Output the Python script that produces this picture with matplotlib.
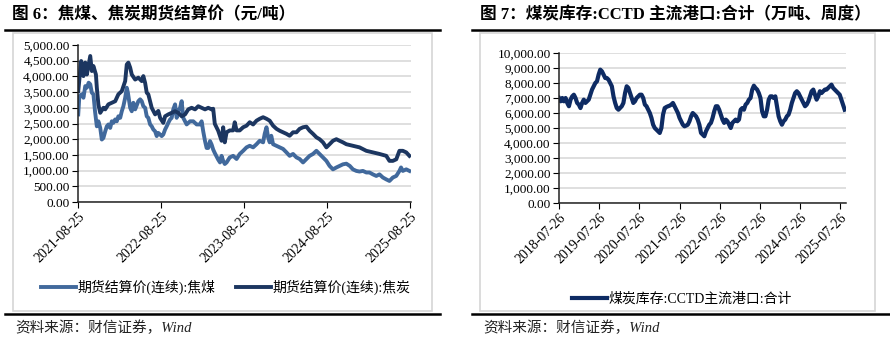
import matplotlib
matplotlib.use("Agg")
import matplotlib.pyplot as plt
import matplotlib.ticker as mticker
import matplotlib.dates as mdates
from matplotlib.patches import Rectangle
from matplotlib.lines import Line2D
import pandas as pd

# --- data ---
coke_dates = [
    "2021-08-25", "2021-09-07", "2021-09-17", "2021-09-25", "2021-10-02", "2021-10-17",
    "2021-10-24", "2021-10-31", "2021-11-11", "2021-11-15", "2021-11-22", "2021-11-30",
    "2021-12-14", "2021-12-22", "2022-01-05", "2022-01-20", "2022-02-04", "2022-02-18",
    "2022-03-05", "2022-03-20", "2022-03-27", "2022-04-03", "2022-04-11", "2022-04-18",
    "2022-05-03", "2022-05-17", "2022-06-01", "2022-06-08", "2022-06-16", "2022-06-23",
    "2022-06-30", "2022-07-15", "2022-07-30", "2022-08-13", "2022-08-21", "2022-09-04",
    "2022-09-12", "2022-09-26", "2022-10-11", "2022-10-26", "2022-11-09", "2022-11-24",
    "2022-12-09", "2022-12-23", "2023-01-07", "2023-01-22", "2023-02-05", "2023-02-20",
    "2023-03-07", "2023-03-21", "2023-04-05", "2023-04-12", "2023-04-19", "2023-05-04",
    "2023-05-19", "2023-05-26", "2023-06-02", "2023-06-10", "2023-06-24", "2023-07-09",
    "2023-07-16", "2023-07-24", "2023-08-07", "2023-08-22", "2023-09-06", "2023-09-20",
    "2023-10-05", "2023-10-20", "2023-11-03", "2023-11-18", "2023-12-03", "2023-12-17",
    "2024-01-01", "2024-01-16", "2024-01-30", "2024-02-14", "2024-02-29", "2024-03-14",
    "2024-03-29", "2024-04-13", "2024-04-27", "2024-05-12", "2024-05-27", "2024-06-10",
    "2024-06-25", "2024-07-10", "2024-07-24", "2024-08-08", "2024-08-23", "2024-09-06",
    "2024-09-21", "2024-10-06", "2024-10-20", "2024-11-04", "2024-11-19", "2024-12-18",
    "2025-01-16", "2025-02-15", "2025-03-16", "2025-04-14", "2025-05-14", "2025-05-28",
    "2025-06-12", "2025-06-27", "2025-07-11", "2025-07-26", "2025-08-10", "2025-08-24",
]
coke_values = [
    3530, 4490, 4010, 4440, 4060, 4650, 4170, 4330, 4060, 3640, 3100, 2840,
    3000, 2950, 3110, 3160, 3210, 3430, 3530, 3850, 4380, 4440, 4280, 4060,
    3900, 3960, 3850, 4010, 3790, 3480, 3430, 3000, 2790, 2900, 2680, 2520,
    2730, 2790, 2840, 2890, 2840, 2730, 2790, 2950, 3000, 2950, 3050, 3000,
    2950, 3000, 2950, 2970, 2490, 2270, 1950, 2380, 1900, 2220, 2280, 2280,
    2540, 2280, 2280, 2380, 2430, 2540, 2470, 2590, 2650, 2700, 2650, 2590,
    2430, 2330, 2270, 2220, 2170, 2110, 2220, 2220, 2330, 2380, 2400, 2270,
    2170, 2060, 2000, 1900, 1740, 1840, 1950, 2000, 1950, 1900, 1840, 1790,
    1740, 1630, 1580, 1530, 1470, 1310, 1310, 1360, 1630, 1630, 1580, 1470,
]

coal_dates = [
    "2021-08-25", "2021-08-30", "2021-09-10", "2021-09-17", "2021-09-25", "2021-10-02",
    "2021-10-10", "2021-10-17", "2021-10-24", "2021-10-31", "2021-11-07", "2021-11-15",
    "2021-11-22", "2021-11-30", "2021-12-07", "2021-12-14", "2021-12-22", "2021-12-29",
    "2022-01-05", "2022-01-13", "2022-01-20", "2022-01-27", "2022-02-04", "2022-02-11",
    "2022-02-18", "2022-02-26", "2022-03-05", "2022-03-12", "2022-03-20", "2022-03-27",
    "2022-04-01", "2022-04-11", "2022-04-18", "2022-04-25", "2022-05-03", "2022-05-17",
    "2022-05-25", "2022-06-01", "2022-06-08", "2022-06-16", "2022-06-23", "2022-06-30",
    "2022-07-08", "2022-07-15", "2022-07-22", "2022-07-30", "2022-08-06", "2022-08-13",
    "2022-08-28", "2022-09-04", "2022-09-12", "2022-09-19", "2022-09-26", "2022-10-04",
    "2022-10-11", "2022-10-18", "2022-10-26", "2022-11-02", "2022-11-09", "2022-11-17",
    "2022-11-24", "2022-12-01", "2022-12-09", "2022-12-16", "2022-12-31", "2023-01-14",
    "2023-01-29", "2023-02-13", "2023-02-20", "2023-02-27", "2023-03-07", "2023-03-14",
    "2023-03-21", "2023-03-29", "2023-04-05", "2023-04-12", "2023-04-19", "2023-05-04",
    "2023-05-12", "2023-05-19", "2023-05-26", "2023-06-02", "2023-06-10", "2023-06-24",
    "2023-07-09", "2023-07-24", "2023-08-07", "2023-08-22", "2023-09-06", "2023-09-20",
    "2023-10-05", "2023-10-20", "2023-11-03", "2023-11-18", "2023-11-25", "2023-12-03",
    "2023-12-10", "2023-12-17", "2023-12-24", "2024-01-01", "2024-01-16", "2024-01-30",
    "2024-02-14", "2024-02-29", "2024-03-14", "2024-03-29", "2024-04-13", "2024-04-27",
    "2024-05-12", "2024-05-27", "2024-06-10", "2024-06-25", "2024-07-10", "2024-07-24",
    "2024-08-08", "2024-08-23", "2024-09-06", "2024-09-21", "2024-10-06", "2024-10-20",
    "2024-11-04", "2024-11-19", "2024-12-04", "2024-12-18", "2025-01-02", "2025-01-16",
    "2025-01-31", "2025-02-15", "2025-03-01", "2025-03-16", "2025-03-31", "2025-04-14",
    "2025-04-29", "2025-05-14", "2025-05-28", "2025-06-12", "2025-06-27", "2025-07-11",
    "2025-07-18", "2025-07-26", "2025-08-10", "2025-08-24",
]
coal_values = [
    2790, 3370, 3430, 3320, 3690, 3640, 3800, 3750, 3480, 3430, 2890, 2410,
    2570, 2360, 1990, 2040, 2250, 2410, 2470, 2360, 2570, 2520, 2630, 2570,
    2730, 2680, 2890, 3050, 3320, 3640, 3480, 3000, 2890, 3160, 2950, 3210,
    3270, 3210, 3050, 3000, 2730, 2680, 2470, 2410, 2310, 2250, 2100, 2200,
    2100, 2150, 2310, 2410, 2520, 2630, 2680, 2950, 3110, 2680, 2890, 3000,
    3210, 2680, 2570, 2470, 2570, 2570, 2470, 2470, 2570, 2250, 1940, 1720,
    1720, 1940, 1830, 1670, 1560, 1350, 1260, 1470, 1310, 1210, 1260, 1420,
    1470, 1370, 1530, 1630, 1740, 1790, 1740, 1840, 1950, 1900, 2170, 2380,
    2060, 1900, 2110, 1840, 1790, 1740, 1690, 1580, 1470, 1530, 1420, 1370,
    1260, 1370, 1470, 1530, 1630, 1530, 1420, 1310, 1150, 1040, 1100, 1150,
    1200, 1220, 1150, 1040, 990, 970, 990, 940, 940, 880, 830, 880,
    780, 720, 670, 780, 830, 990, 1100, 990, 1040, 990,
]

# port inventory, roughly half-monthly readings from 2018-07-26
port_start = "2018-07-26"
port_values = [
    7000, 6780, 7000, 6780, 7000, 6670, 6450, 6890, 7110, 7220, 7000, 6670,
    6560, 6330, 6670, 6890, 6670, 6780, 6890, 7220, 7560, 7780, 8000, 8110,
    8560, 8890, 8780, 8560, 8330, 8330, 8220, 8000, 7780, 7110, 6670, 6330,
    6220, 6330, 6450, 6670, 7330, 7780, 7670, 7330, 7000, 6670, 6780, 7000,
    7110, 7220, 7220, 7000, 6560, 6450, 6220, 6000, 5670, 5220, 5000, 4890,
    4780, 4670, 5000, 5890, 6330, 6400, 6450, 6490, 6560, 6670, 6450, 6220,
    6000, 5670, 5450, 5220, 5110, 5160, 5220, 5450, 5780, 6000, 5890, 5780,
    5560, 5220, 4670,
    4560, 4450, 4780, 5000, 5220, 5340, 5670, 6110, 6450, 6450, 6220, 5890,
    5560, 5340, 5560, 5450, 5220, 5000, 5340, 5450, 5560, 5450, 5560, 6220,
    6330, 6220, 6560, 6670, 6890, 7000, 7560, 7820, 7670, 7560, 7330, 7000,
    6110, 5780, 5780, 6220, 6890, 7110, 7110, 7000, 7110, 6450, 5780, 5450,
    5220, 5450, 5560, 5780, 5890, 6220, 6670, 7000, 7330, 7450, 7330, 7110,
    6890, 6670, 6450, 6560, 6780, 7110, 7450, 7560, 7220, 6890, 7110, 7450,
    7330, 7450, 7560, 7560, 7670, 7780, 7890, 7670, 7560, 7450, 7330, 7220,
    6890, 6560, 6220,
]

left_ticks = ["2021-08-25", "2022-08-25", "2023-08-25", "2024-08-25", "2025-08-25"]
right_ticks = ["2018-07-26", "2019-07-26", "2020-07-26", "2021-07-26",
               "2022-07-26", "2023-07-26", "2024-07-26", "2025-07-26"]

coal_label = "期货结算价(连续):焦煤"
coke_label = "期货结算价(连续):焦炭"
port_label = "煤炭库存:CCTD主流港口:合计"

W, H = 890, 344
FONT = ["Liberation Serif", "Noto Sans CJK SC"]
plt.rcParams["font.family"] = FONT


def fx(x):
    return x / W


def fy(y):
    return 1 - y / H


fig = plt.figure(figsize=(W / 100, H / 100), dpi=100)
fig.patch.set_facecolor("white")

# frames and rules
for (x0, y0, x1, y1) in [(13, 33, 432, 311), (480, 33, 875, 311)]:
    fig.add_artist(Rectangle((fx(x0), fy(y1)), fx(x1) - fx(x0), fy(y0) - fy(y1),
                             transform=fig.transFigure, fill=False,
                             edgecolor="#d6d6d6", lw=1.2))
for (x0, x1) in [(5, 440), (472, 890)]:
    for y in (30, 314):
        fig.add_artist(Line2D([fx(x0), fx(x1)], [fy(y), fy(y)],
                              transform=fig.transFigure, color="black", lw=1.8))

fig.text(fx(12), fy(15), "图 6：焦煤、焦炭期货结算价（元/吨）", fontsize=12,
         fontweight="bold", va="center", ha="left")
fig.text(fx(480), fy(15), "图 7：煤炭库存:CCTD 主流港口:合计（万吨、周度）", fontsize=12,
         fontweight="bold", va="center", ha="left")
for x in (15, 483):
    fig.text(fx(x), fy(328), "资料来源：财信证券，Wind", fontsize=10.5,
             style="italic", va="center", ha="left", color="#222222")


def style_axes(ax, ymax, ystep, ticks):
    ax.set_ylim(0, ymax)
    ax.set_yticks(range(0, ymax + 1, ystep))
    ax.yaxis.set_major_formatter(mticker.FuncFormatter(lambda v, p: f"{v:,.2f}"))
    ax.set_xticks(pd.to_datetime(ticks))
    ax.xaxis.set_major_formatter(mdates.DateFormatter("%Y-%m-%d"))
    for lab in ax.get_xticklabels():
        lab.set_rotation(45)
        lab.set_ha("right")
        lab.set_rotation_mode("anchor")
    ax.tick_params(axis="x", labelsize=10, length=4, direction="out", pad=2)
    ax.tick_params(axis="y", labelsize=9.5, length=4, direction="out", pad=2)
    ax.yaxis.grid(True, color="#d9d9d9", lw=1.2)
    ax.set_axisbelow(True)
    for s in ("top", "right"):
        ax.spines[s].set_visible(False)
    for s in ("left", "bottom"):
        ax.spines[s].set_color("#222222")
        ax.spines[s].set_linewidth(1.1)


# left chart
ax1 = fig.add_axes([fx(78), fy(202), fx(411) - fx(78), fy(45) - fy(202)])
ax1.plot(pd.to_datetime(coal_dates), coal_values, color="#41699c", lw=2.8, label=coal_label)
ax1.plot(pd.to_datetime(coke_dates), coke_values, color="#1c3660", lw=2.8, label=coke_label)
ax1.set_xlim(pd.Timestamp("2021-08-24"), pd.Timestamp("2025-08-31"))
style_axes(ax1, 5000, 500, left_ticks)
fig.legend(*ax1.get_legend_handles_labels(), loc="center",
           bbox_to_anchor=(fx(226), fy(287)), ncol=2, frameon=False, fontsize=10,
           handlelength=2.5, handletextpad=0.1, columnspacing=1.5)

# right chart
ax2 = fig.add_axes([fx(559), fy(203), fx(846) - fx(559), fy(53) - fy(203)])
port_dates = pd.date_range(port_start, periods=len(port_values), freq="15D")
ax2.plot(port_dates, port_values, color="#0e2b63", lw=3.0, label=port_label)
ax2.set_xlim(pd.Timestamp("2018-07-26"), pd.Timestamp("2025-09-14"))
style_axes(ax2, 10000, 1000, right_ticks)
fig.legend(*ax2.get_legend_handles_labels(), loc="center",
           bbox_to_anchor=(fx(682), fy(299)), frameon=False, fontsize=10,
           handlelength=2.5, handletextpad=0.1)

fig.savefig("out.png", dpi=100, facecolor="white")
